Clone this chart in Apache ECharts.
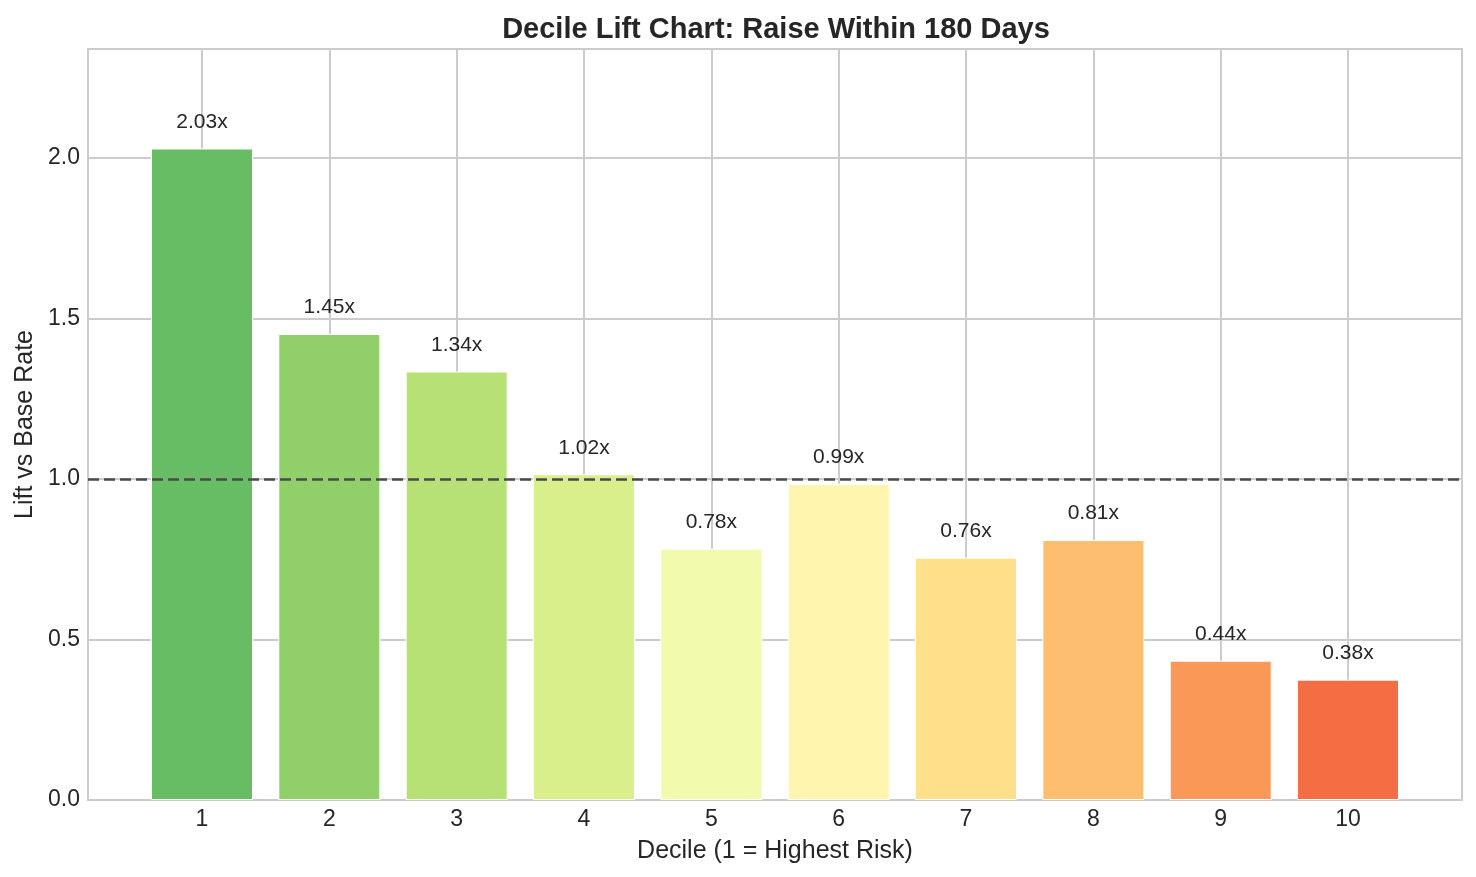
<!DOCTYPE html>
<html>
<head>
<meta charset="utf-8">
<title>Decile Lift Chart</title>
<script src="https://cdn.jsdelivr.net/npm/echarts@6/dist/echarts.min.js"></script>
<style>
  html, body { margin: 0; padding: 0; background: #fff; }
  #main { width: 1476px; height: 877px; }
</style>
</head>
<body>
<div id="main"></div>
<script>
// deciles and lift
var deciles = [1, 2, 3, 4, 5, 6, 7, 8, 9, 10];
var lift = [2.03, 1.452, 1.335, 1.015, 0.783, 0.985, 0.755, 0.81, 0.434, 0.375];
var liftLabels = ['2.03x', '1.45x', '1.34x', '1.02x', '0.78x', '0.99x', '0.76x', '0.81x', '0.44x', '0.38x'];
var baseRate = 1.0;
var barColors = ['#66bd63', '#91d068', '#b7e075', '#d9ef8b', '#f2faae',
                 '#fff5ae', '#fee08b', '#fdbf6f', '#fa9857', '#f46d43'];

var font = "'Liberation Sans', Arial, sans-serif";
var ink = '#262626';

var chart = echarts.init(document.getElementById('main'));

var barData = deciles.map(function (d, i) {
  return {
    value: [d, lift[i]],
    itemStyle: { color: barColors[i] }
  };
});

var option = {
  backgroundColor: '#ffffff',
  animation: false,
  textStyle: { fontFamily: font, color: ink },
  title: {
    text: 'Decile Lift Chart: Raise Within 180 Days',
    left: 771,
    top: 10,
    textAlign: 'center',
    textStyle: { fontFamily: font, fontSize: 29, fontWeight: 'bold', color: ink }
  },
  grid: {
    left: 88, right: 14, top: 49, bottom: 77,
    show: true,
    borderColor: '#cccccc',
    borderWidth: 2,
    backgroundColor: '#ffffff'
  },
  xAxis: {
    type: 'value',
    min: 0.105,
    max: 10.895,
    splitNumber: 10,
    minInterval: 1,
    maxInterval: 1,
    name: 'Decile (1 = Highest Risk)',
    nameLocation: 'middle',
    nameGap: 39,
    nameTextStyle: { fontFamily: font, fontSize: 25, color: ink },
    axisLine: { show: false },
    axisTick: { show: false },
    axisLabel: {
      fontFamily: font, fontSize: 23, color: ink, margin: 8,
      showMinLabel: false, showMaxLabel: false,
      formatter: function (v) { return Number.isInteger(v) ? String(v) : ''; }
    },
    splitLine: { show: true, lineStyle: { color: '#cccccc', width: 2 } }
  },
  yAxis: {
    type: 'value',
    min: 0,
    max: 2.34,
    interval: 0.5,
    name: 'Lift vs Base Rate',
    nameLocation: 'middle',
    nameGap: 50,
    nameTextStyle: { fontFamily: font, fontSize: 25, color: ink },
    axisLine: { show: false },
    axisTick: { show: false },
    axisLabel: {
      fontFamily: font, fontSize: 23, color: ink, margin: 8,
      showMaxLabel: false,
      formatter: function (v) { return v.toFixed(1); }
    },
    splitLine: { show: true, lineStyle: { color: '#cccccc', width: 2 } }
  },
  series: [
    {
      type: 'bar',
      data: barData,
      barWidth: 102,
      itemStyle: { borderColor: '#ffffff', borderWidth: 1 },
      label: {
        show: true,
        position: 'top',
        distance: 16,
        fontFamily: font,
        fontSize: 21,
        color: ink,
        formatter: function (p) { return liftLabels[p.dataIndex]; }
      },
      markLine: {
        silent: true,
        symbol: 'none',
        label: { show: false },
        lineStyle: { color: '#4a4a4a', type: [11, 5], width: 2.5 },
        data: [{ yAxis: baseRate }],
        z: 10
      }
    }
  ]
};

chart.setOption(option);
</script>
</body>
</html>
